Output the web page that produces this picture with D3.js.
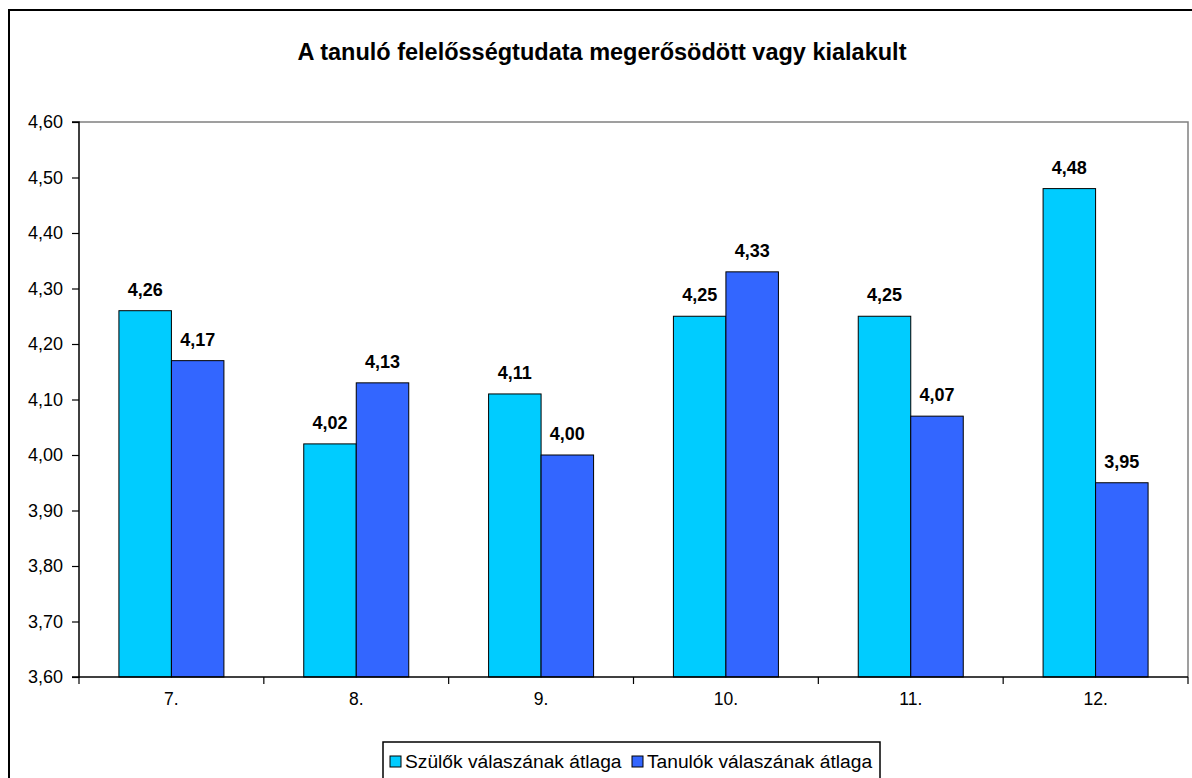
<!DOCTYPE html>
<html><head><meta charset="utf-8">
<script src="https://cdn.jsdelivr.net/npm/d3@7"></script>
<style>body{margin:0;background:#fff}svg{display:block}text{font-family:"Liberation Sans",Arial,sans-serif}</style>
</head><body>
<svg id="c" width="1192" height="778"></svg>
<script>
const title = "A tanuló felelősségtudata megerősödött vagy kialakult";
const categories = ["7.", "8.", "9.", "10.", "11.", "12."];
const seriesNames = ["Szülők válaszának átlaga", "Tanulók válaszának átlaga"];
const parents = [4.26, 4.02, 4.11, 4.25, 4.25, 4.48];
const students = [4.17, 4.13, 4.00, 4.33, 4.07, 3.95];
const yTicks = [3.6, 3.7, 3.8, 3.9, 4.0, 4.1, 4.2, 4.3, 4.4, 4.5, 4.6];
const colors = ["#00CCFF", "#3366FF"];

const svg = d3.select("#c");
const fmt = v => v.toFixed(2).replace(".", ",");
const L = 79, R = 1188, T = 122, B = 677;
const FF = '"Liberation Sans",Arial,sans-serif';

// outer border
svg.append("rect").attr("x", 9).attr("y", 10).attr("width", 1200).attr("height", 800)
  .attr("fill", "#fff").attr("stroke", "#000").attr("stroke-width", 2);

svg.append("text").attr("x", 602).attr("y", 60).attr("text-anchor", "middle")
  .attr("font-size", 23.5).attr("font-weight", "bold").text(title);

const x = d3.scaleBand().domain(categories).range([L, R]).padding(0);
const y = d3.scaleLinear().domain([3.6, 4.6]).range([B, T]);
const barW = 52.5;

// plot border (grey top/right)
svg.append("path").attr("d", `M${L},${T}H${R}V${B}`).attr("fill", "none").attr("stroke", "#808080").attr("stroke-width", 1.5);

const data = [parents, students];
data.forEach((vals, s) => {
  const g = svg.append("g");
  g.selectAll("rect").data(vals).join("rect")
    .attr("x", (d, i) => x(categories[i]) + x.bandwidth() / 2 - barW + s * barW)
    .attr("y", d => y(d))
    .attr("width", barW)
    .attr("height", d => B - y(d))
    .attr("fill", colors[s]).attr("stroke", "#000").attr("stroke-width", 1);
  g.selectAll("text").data(vals).join("text")
    .attr("x", (d, i) => x(categories[i]) + x.bandwidth() / 2 - barW / 2 + s * barW)
    .attr("y", d => y(d) - 15)
    .attr("text-anchor", "middle").attr("font-size", 18).attr("font-weight", "bold")
    .text(d => fmt(d));
});

// y axis
const ya = d3.axisLeft(y).tickValues(yTicks).tickFormat(fmt).tickSize(7).tickPadding(9);
const yg = svg.append("g").attr("transform", `translate(${L},0)`).call(ya);
yg.select(".domain").attr("stroke", "#000").attr("stroke-width", 1.5).attr("d", `M-7,${B}H0V${T}H-7`);
yg.selectAll(".tick line").attr("stroke", "#000").attr("stroke-width", 1.2);
yg.selectAll(".tick text").attr("font-size", 18).attr("fill", "#000").style("font-family", FF);

// x axis
const xa = d3.axisBottom(x).tickSize(0).tickPadding(16);
const xg = svg.append("g").attr("transform", `translate(0,${B})`).call(xa);
xg.select(".domain").attr("stroke", "#000").attr("stroke-width", 1.5).attr("d", `M${L},0H${R}`);
xg.selectAll(".tick text").attr("font-size", 17.5).attr("fill", "#000").style("font-family", FF);
xg.selectAll("line.sep").data(d3.range(categories.length + 1)).join("line").attr("class", "sep")
  .attr("x1", i => L + i * x.step()).attr("x2", i => L + i * x.step())
  .attr("y1", 0).attr("y2", 7).attr("stroke", "#000").attr("stroke-width", 1.2);

// legend
const lg = svg.append("g");
lg.append("rect").attr("x", 383).attr("y", 742).attr("width", 497).attr("height", 60)
  .attr("fill", "#fff").attr("stroke", "#000").attr("stroke-width", 1.5);
const lx = [390, 632];
seriesNames.forEach((n, i) => {
  lg.append("rect").attr("x", lx[i]).attr("y", 756).attr("width", 11).attr("height", 11)
    .attr("fill", colors[i]).attr("stroke", "#000").attr("stroke-width", 1);
  lg.append("text").attr("x", lx[i] + 15).attr("y", 768).attr("font-size", 19.2).text(n);
});
</script>
</body></html>
